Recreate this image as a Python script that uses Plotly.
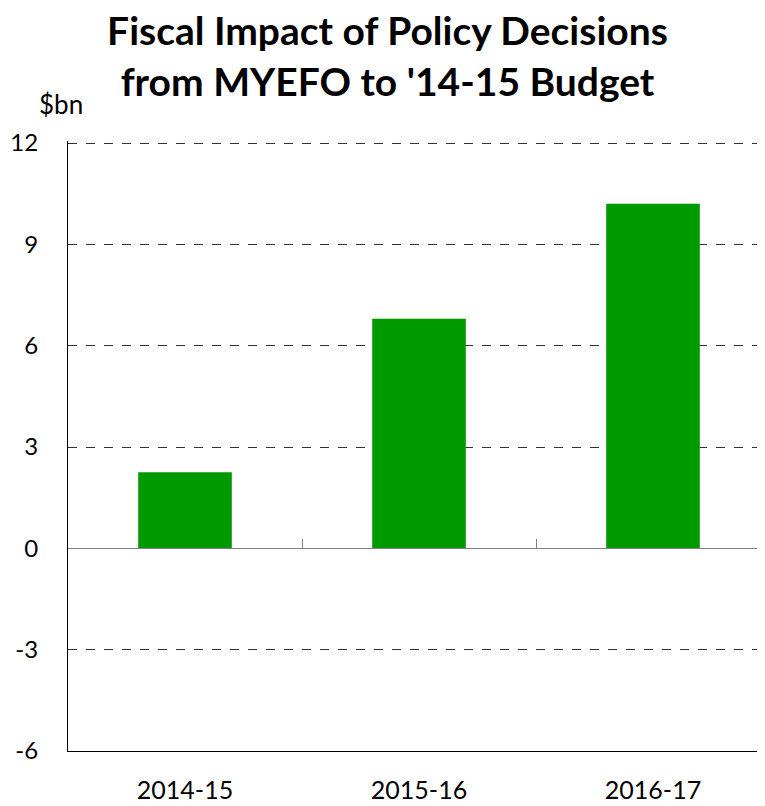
import plotly.graph_objects as go

categories = ["2014-15", "2015-16", "2016-17"]
values = [2.25, 6.8, 10.2]
y_ticks = [-6, -3, 0, 3, 6, 9, 12]
y_ticktext = ["-6", "-3", "0", "3", "6", "9", "12"]
y_min, y_max = -6, 12.06

# page body adds an 8px offset, so the figure is sized to fit the window
W, H = 757, 798
ml, mr, mt, mb = 60, 0, 133, 55
plot_w = W - ml - mr
cat_px = 234.0
x_range = [-0.5, -0.5 + plot_w / cat_px]

font_family = "Lato, 'Open Sans', sans-serif"

fig = go.Figure()
fig.add_trace(go.Bar(x=categories, y=values, marker=dict(color="#009900", line=dict(width=0)),
                     width=0.4, hoverinfo="skip"))
# invisible trace for the zero-line axis
fig.add_trace(go.Scatter(x=categories, y=[0, 0, 0], xaxis="x2", mode="markers",
                         marker=dict(opacity=0), hoverinfo="skip", showlegend=False))

zero_pos = (0 - y_min) / (y_max - y_min)

fig.update_layout(
    width=W, height=H,
    margin=dict(l=ml, r=mr, t=mt, b=mb),
    paper_bgcolor="white", plot_bgcolor="white",
    showlegend=False,
    title=dict(text="<b>Fiscal Impact of Policy Decisions<br>from MYEFO to '14-15 Budget</b>",
               x=0.5013, xanchor="center", y=0.9535, yanchor="top",
               font=dict(family=font_family, size=39, color="black")),
    font=dict(family=font_family, color="black"),
    xaxis=dict(type="category", range=x_range, showgrid=False, showline=True,
               linecolor="black", linewidth=1, ticks="", zeroline=False, automargin=False,
               tickfont=dict(size=25), ticklabelstandoff=17),
    xaxis2=dict(type="category", overlaying="x", range=x_range, anchor="free",
                position=zero_pos, side="bottom", showgrid=False, showline=True,
                linecolor="#7f7f7f", linewidth=1.3, ticks="inside", tickson="boundaries",
                ticklen=9, tickcolor="#7f7f7f", tickwidth=1.3, showticklabels=False,
                automargin=False),
    yaxis=dict(range=[y_min, y_max], tickvals=y_ticks, ticktext=y_ticktext, showgrid=True,
               gridcolor="#333333", griddash="dash", gridwidth=1, automargin=False,
               showline=True, linecolor="black", linewidth=1, zeroline=False,
               ticks="", tickfont=dict(size=24), ticklabelstandoff=24),
    annotations=[dict(text="$bn", xref="paper", yref="paper", x=(29 - ml) / plot_w,
                      xanchor="left", y=1, yanchor="bottom", yshift=19, showarrow=False,
                      font=dict(size=26, family=font_family))],
)

fig.write_html("out.html")
